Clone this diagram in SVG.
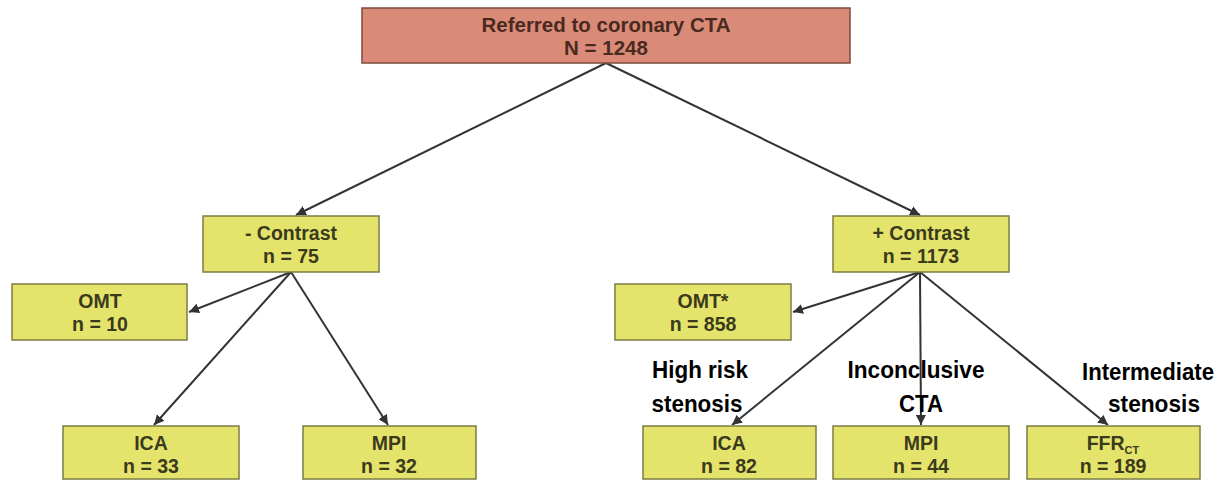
<svg xmlns="http://www.w3.org/2000/svg" width="1226" height="481" viewBox="0 0 1226 481">
<defs>
<style>
.top{fill:#d98b78;stroke:#7d4a3c;stroke-width:1.5}
.box{fill:#e4e46c;stroke:#7c7c44;stroke-width:1.5}
.t{font-family:"Liberation Sans",Arial,sans-serif;font-weight:bold;font-size:19.5px;fill:#3b3a1c;text-anchor:middle}
.tt{font-family:"Liberation Sans",Arial,sans-serif;font-weight:bold;font-size:20.5px;fill:#4a2a20;text-anchor:middle}
.lbl{font-family:"Liberation Sans Narrow","Arial Narrow","Liberation Sans",sans-serif;font-weight:bold;font-size:24px;fill:#000;text-anchor:middle}
.c{stroke:#333;stroke-width:2;fill:none;marker-end:url(#ah)}
</style>
<marker id="ah" viewBox="0 0 10 10" refX="10" refY="5" markerWidth="5" markerHeight="5" orient="auto" markerUnits="strokeWidth">
<path d="M0,0 L10,5 L0,10 z" fill="#333"/>
</marker>
</defs>
<rect width="1226" height="481" fill="#fff"/>
<g id="connectors">
<line class="c" x1="606" y1="63" x2="296" y2="215"/>
<line class="c" x1="606" y1="63" x2="920" y2="215"/>
<line class="c" x1="291" y1="272" x2="189" y2="312"/>
<line class="c" x1="291" y1="272" x2="154" y2="425"/>
<line class="c" x1="291" y1="272" x2="388" y2="425"/>
<line class="c" x1="920" y1="272" x2="793" y2="312"/>
<line class="c" x1="920" y1="272" x2="732" y2="425"/>
<line class="c" x1="920" y1="272" x2="921" y2="425"/>
<line class="c" x1="920" y1="272" x2="1108" y2="425"/>
</g>
<g id="root">
<rect class="top" x="362" y="8" width="488" height="55"/>
<text class="tt" x="606" y="32">Referred to coronary CTA</text>
<text class="tt" x="606" y="55">N = 1248</text>
</g>
<g id="neg-contrast">
<rect class="box" x="203" y="216" width="176" height="56"/>
<text class="t" x="291" y="240">- Contrast</text>
<text class="t" x="291" y="263">n = 75</text>
</g>
<g id="pos-contrast">
<rect class="box" x="833" y="216" width="176" height="56"/>
<text class="t" x="921" y="240">+ Contrast</text>
<text class="t" x="921" y="263">n = 1173</text>
</g>
<g id="omt-left">
<rect class="box" x="12" y="284" width="175" height="56"/>
<text class="t" x="100" y="308">OMT</text>
<text class="t" x="100" y="331">n = 10</text>
</g>
<g id="omt-right">
<rect class="box" x="615" y="284" width="176" height="56"/>
<text class="t" x="703" y="308">OMT*</text>
<text class="t" x="703" y="331">n = 858</text>
</g>
<g id="ica-left">
<rect class="box" x="63" y="426" width="176" height="53"/>
<text class="t" x="151" y="450">ICA</text>
<text class="t" x="151" y="473">n = 33</text>
</g>
<g id="mpi-left">
<rect class="box" x="303" y="426" width="173" height="53"/>
<text class="t" x="389" y="450">MPI</text>
<text class="t" x="389" y="473">n = 32</text>
</g>
<g id="ica-right">
<rect class="box" x="643" y="426" width="173" height="53"/>
<text class="t" x="729" y="450">ICA</text>
<text class="t" x="729" y="473">n = 82</text>
</g>
<g id="mpi-right">
<rect class="box" x="833" y="426" width="176" height="53"/>
<text class="t" x="921" y="450">MPI</text>
<text class="t" x="921" y="473">n = 44</text>
</g>
<g id="ffr">
<rect class="box" x="1027" y="426" width="173" height="53"/>
<text class="t" x="1113" y="450">FFR<tspan font-size="11" dy="4">CT</tspan></text>
<text class="t" x="1113" y="473">n = 189</text>
</g>
<g id="labels">
<text class="lbl" x="700" y="378" textLength="96" lengthAdjust="spacingAndGlyphs">High risk</text>
<text class="lbl" x="697" y="412" textLength="91" lengthAdjust="spacingAndGlyphs">stenosis</text>
<text class="lbl" x="916" y="378" textLength="137" lengthAdjust="spacingAndGlyphs">Inconclusive</text>
<text class="lbl" x="921" y="412" textLength="44" lengthAdjust="spacingAndGlyphs">CTA</text>
<text class="lbl" x="1148" y="380" textLength="132" lengthAdjust="spacingAndGlyphs">Intermediate</text>
<text class="lbl" x="1154" y="412" textLength="92" lengthAdjust="spacingAndGlyphs">stenosis</text>
</g>
</svg>
